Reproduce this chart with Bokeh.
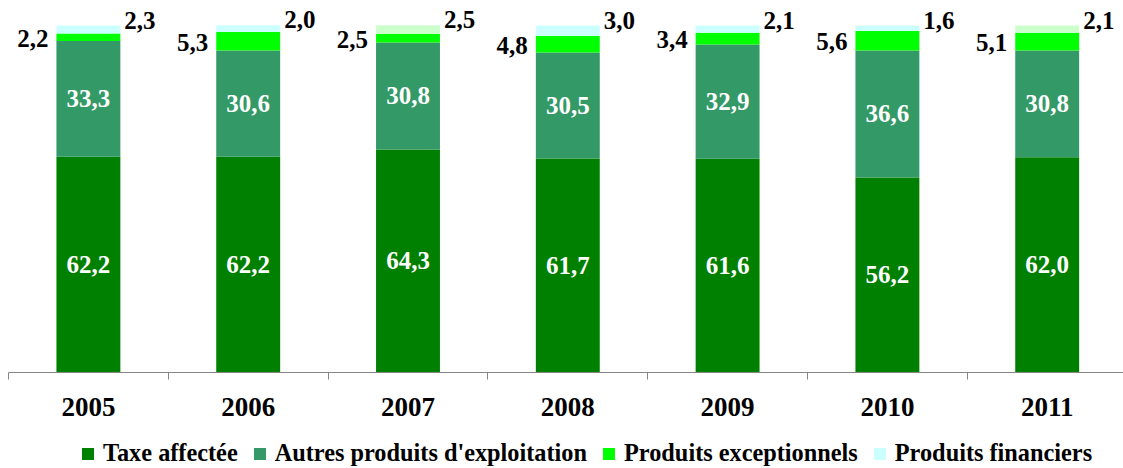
from bokeh.plotting import figure
from bokeh.layouts import column
from bokeh.models import (ColumnDataSource, Range1d, FixedTicker, LabelSet,
                          Legend, LegendItem)
from bokeh.embed import file_html
from bokeh.resources import INLINE

years = ["2005", "2006", "2007", "2008", "2009", "2010", "2011"]
taxe = [62.2, 62.2, 64.3, 61.7, 61.6, 56.2, 62.0]
autres = [33.3, 30.6, 30.8, 30.5, 32.9, 36.6, 30.8]
exceptionnels = [2.2, 5.3, 2.5, 4.8, 3.4, 5.6, 5.1]
financiers = [2.3, 2.0, 2.5, 3.0, 2.1, 1.6, 2.1]
financiers_colors = ["#CCFFFF", "#CCFFFF", "#CCFFCC", "#CCFFFF",
                     "#CCFFFF", "#CCFFFF", "#CCFFCC"]
series_names = ["Taxe affectée", "Autres produits d'exploitation",
                "Produits exceptionnels", "Produits financiers"]

C_TAXE = "#008000"
C_AUTRES = "#339966"
C_EXC = "#00FF00"
FONT = "Liberation Serif"
BAR_W = 0.4


def fmt(v):
    return f"{v:.1f}".replace(".", ",")


x = [i + 0.5 for i in range(len(years))]
b1 = [0.0] * len(years)
t1 = [a for a in taxe]
t2 = [a + b for a, b in zip(t1, autres)]
t3 = [a + b for a, b in zip(t2, exceptionnels)]
t4 = [a + b for a, b in zip(t3, financiers)]

src = ColumnDataSource(dict(
    x=x, b1=b1, t1=t1, t2=t2, t3=t3, t4=t4,
    fcol=financiers_colors,
    m1=[(a + b) / 2 for a, b in zip(b1, t1)],
    m2=[(a + b) / 2 for a, b in zip(t1, t2)],
    m3=[(a + b) / 2 for a, b in zip(t2, t3)],
    xl=[v - BAR_W / 2 for v in x],
    xr=[v + BAR_W / 2 for v in x],
    l1=[fmt(v) for v in taxe],
    l2=[fmt(v) for v in autres],
    l3=[fmt(v) for v in exceptionnels],
    l4=[fmt(v) for v in financiers],
))

W = 1123
MAIN_H = 424
LEG_H = 44
LEFT = 8
BOTTOM = 52
PX_PER_CAT = 159.8
FRAME_W = W - LEFT
FRAME_H = MAIN_H - BOTTOM
p = figure(width=W, height=MAIN_H,
           x_range=Range1d(0, FRAME_W / PX_PER_CAT),
           y_range=Range1d(0, FRAME_H / 3.47),
           y_axis_type=None, toolbar_location=None, output_backend="svg",
           min_border=0, min_border_left=LEFT, min_border_bottom=BOTTOM)
p.outline_line_color = None
p.xgrid.visible = False
p.ygrid.visible = False
p.background_fill_color = "white"
p.border_fill_color = "white"


def draw_bars(fig):
    return [
        fig.vbar(x="x", width=BAR_W, bottom="b1", top="t1", source=src,
                 fill_color=C_TAXE, line_color=None),
        fig.vbar(x="x", width=BAR_W, bottom="t1", top="t2", source=src,
                 fill_color=C_AUTRES, line_color=None),
        fig.vbar(x="x", width=BAR_W, bottom="t2", top="t3", source=src,
                 fill_color=C_EXC, line_color=None),
        fig.vbar(x="x", width=BAR_W, bottom="t3", top="t4", source=src,
                 fill_color="fcol", line_color=None),
    ]


draw_bars(p)

common = dict(source=src, text_font=FONT, text_font_style="bold",
              text_font_size="25px")
p.add_layout(LabelSet(x="x", y="m1", text="l1", text_align="center",
                      text_baseline="middle", text_color="white", **common))
p.add_layout(LabelSet(x="x", y="m2", text="l2", text_align="center",
                      text_baseline="middle", text_color="white", **common))
p.add_layout(LabelSet(x="xl", y="m3", text="l3", text_align="right",
                      text_baseline="middle", text_color="black",
                      x_offset=-8, y_offset=-1, **common))
p.add_layout(LabelSet(x="xr", y="t4", text="l4", text_align="left",
                      text_baseline="alphabetic", text_color="black",
                      x_offset=4, y_offset=-3, **common))

ax = p.xaxis[0]
ax.ticker = FixedTicker(ticks=x, minor_ticks=list(range(len(years) + 1)))
ax.major_label_overrides = {v: y for v, y in zip(x, years)}
ax.major_tick_out = 0
ax.major_tick_in = 0
ax.minor_tick_out = 7
ax.minor_tick_in = 0
ax.axis_line_color = "#868686"
ax.minor_tick_line_color = "#868686"
ax.major_label_text_font = FONT
ax.major_label_text_font_style = "bold"
ax.major_label_text_font_size = "27px"
ax.major_label_text_color = "black"
ax.major_label_standoff = 18

# legend strip: same bars drawn outside its visible range, only the legend shows
pl = figure(width=W, height=LEG_H,
            x_range=Range1d(0, FRAME_W / PX_PER_CAT),
            y_range=Range1d(1000, 1001),
            x_axis_type=None, y_axis_type=None, toolbar_location=None,
            output_backend="svg", min_border=0)
pl.outline_line_color = None
pl.xgrid.visible = False
pl.ygrid.visible = False
pl.background_fill_color = "white"
pl.border_fill_color = "white"
lr = draw_bars(pl)

legend = Legend(items=[
    LegendItem(label=series_names[0], renderers=[lr[0]]),
    LegendItem(label=series_names[1], renderers=[lr[1]]),
    LegendItem(label=series_names[2], renderers=[lr[2]]),
    LegendItem(label=series_names[3], renderers=[lr[3]], index=0),
], orientation="horizontal", location=(72, 1))
legend.label_text_font = FONT
legend.label_text_font_style = "bold"
legend.label_text_font_size = "24.3px"
legend.label_text_color = "black"
legend.glyph_width = 15
legend.glyph_height = 15
legend.label_standoff = 8
legend.spacing = 14
legend.padding = 0
legend.margin = 0
legend.border_line_color = None
legend.background_fill_alpha = 0
pl.add_layout(legend)

layout = column(p, pl, spacing=0)
open("out.html", "w").write(file_html(layout, INLINE))
